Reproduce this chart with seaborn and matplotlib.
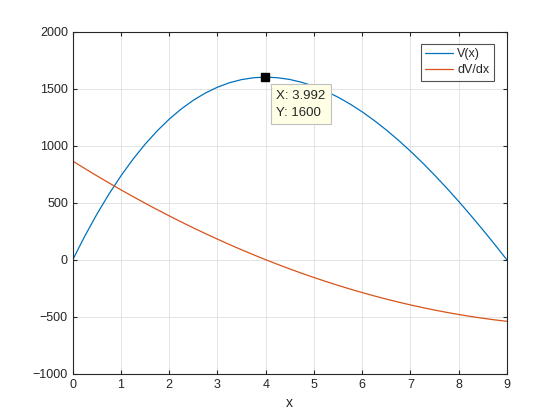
import matplotlib
matplotlib.use('Agg')
import matplotlib.pyplot as plt
import seaborn as sns
import pandas as pd

# valores
x = [0, 0.25, 0.5, 0.75, 1, 1.25, 1.5, 1.75, 2, 2.25, 2.5, 2.75, 3, 3.25, 3.5, 3.75,
     4, 4.25, 4.5, 4.75, 5, 5.25, 5.5, 5.75, 6, 6.25, 6.5, 6.75, 7, 7.25, 7.5, 7.75,
     8, 8.25, 8.5, 8.75, 9]
v = [0, 207.8, 399.5, 575.4, 736, 881.6, 1012.5, 1129.2, 1232, 1321.3, 1397.5, 1460.9,
     1512, 1551.1, 1578.5, 1594.7, 1600, 1594.8, 1579.5, 1554.4, 1520, 1476.6, 1424.5,
     1364.2, 1296, 1220.3, 1137.5, 1047.9, 952, 850.1, 742.5, 629.7, 512, 389.8, 263.5,
     133.4, 0]
dv = [864, 798.75, 735, 672.75, 612, 552.75, 495, 438.75, 384, 330.75, 279, 228.75, 180,
      132.75, 87, 42.75, 0, -41.25, -81, -119.25, -156, -191.25, -225, -257.25, -288,
      -317.25, -345, -371.25, -396, -419.25, -441, -461.25, -480, -497.25, -513, -527.25,
      -540]
tip_x = 3.992
tip_y = 1600

df = pd.DataFrame({'x': x * 2, 'y': v + dv,
                   'serie': ['V(x)'] * len(x) + ['dV/dx'] * len(x)})

sns.set_style('white')
plt.rcParams['font.family'] = ['Liberation Sans', 'DejaVu Sans']

fig, ax = plt.subplots(figsize=(5.6, 4.2), dpi=100)
fig.subplots_adjust(left=0.13, right=0.905, bottom=0.11, top=0.925)

sns.lineplot(data=df, x='x', y='y', hue='serie', palette=['#0072BD', '#D95319'],
             linewidth=0.9, ax=ax)

# data tip
ax.plot([tip_x], [tip_y], marker='s', color='black', markersize=6, zorder=5)
ax.annotate('X: 3.992\nY: 1600', xy=(tip_x, tip_y), xytext=(8, -9),
            textcoords='offset points', ha='left', va='top', fontsize=9.5,
            linespacing=1.6,
            bbox=dict(boxstyle='square,pad=0.4', fc='#FFFFE6', ec='#BFBFBF', lw=0.8),
            zorder=6)

ax.set_xlim(0, 9)
ax.set_ylim(-1000, 2000)
ax.set_xticks(range(0, 10))
ax.set_yticks(range(-1000, 2001, 500))
ax.set_xlabel('x', fontsize=10, color='#262626')
ax.set_ylabel('')
ax.grid(True, color='#DFDFDF', linewidth=0.6)
ax.tick_params(direction='in', labelsize=9, colors='#262626', length=3,
               top=True, right=True, bottom=True, left=True)
for s in ax.spines.values():
    s.set_color('#262626')
    s.set_linewidth(0.8)

leg = ax.legend(loc='upper right', fontsize=9, frameon=True, fancybox=False,
                edgecolor='#262626', handlelength=2.2, handletextpad=0.35,
                borderpad=0.35, labelspacing=0.35, borderaxespad=1.0,
                bbox_to_anchor=(0.999, 1.001))
leg.get_frame().set_linewidth(0.8)

plt.savefig('out.png', dpi=100)
